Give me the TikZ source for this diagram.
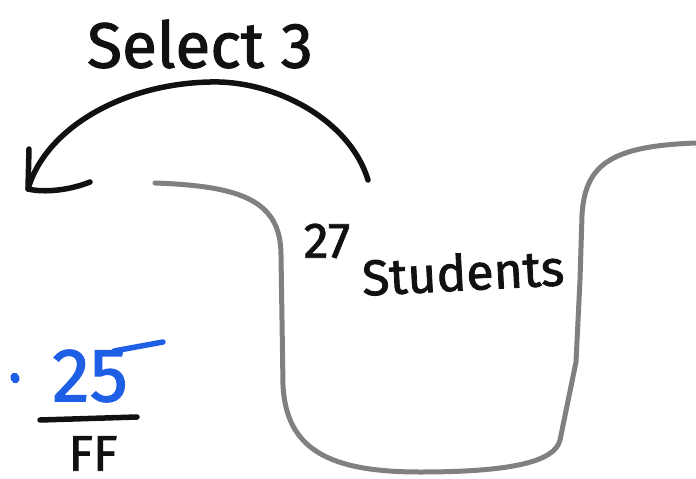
\documentclass[tikz,border=0pt]{standalone}
\usepackage{fontspec}
\usetikzlibrary{shapes.geometric}
\setmainfont{Fira Sans}
\newfontfamily\handfont[FakeBold=1.6]{Fira Sans}
\definecolor{ink}{HTML}{111111}
\definecolor{pen}{HTML}{1E5FE6}
\definecolor{wall}{HTML}{808080}
\begin{document}
\begin{tikzpicture}[x=1pt,y=-1pt,
  inkline/.style={draw=ink,line width=5.5pt,line cap=round,line join=round},
  wallline/.style={draw=wall,line width=5pt,line cap=round,line join=round},
  penline/.style={draw=pen,line width=5.5pt,line cap=round},
  lbl/.style={inner sep=0pt,text=ink,font=\handfont}]
\useasboundingbox (0,0) rectangle (696,479);
\clip (0,0) rectangle (696,479);
% text
\node[lbl] (sel) at (200,44) {\fontsize{64}{64}\selectfont Select 3};
\node[lbl] (n27) at (327,241) {\fontsize{50}{50}\selectfont 27};
\node[lbl,rotate=3] (stu) at (463,272) {\fontsize{50}{50}\selectfont Students};
\node[lbl,text=pen] (q25) at (90,376) {\fontsize{76}{76}\selectfont 25};
\node[ellipse,fill=pen,inner sep=0pt,minimum width=9pt,minimum height=11pt,rotate=20] (dot) at (15,378) {};
\node[lbl,anchor=north] (ff) at (93,436) {\fontsize{50}{50}\selectfont FF};
% coordinates
\coordinate (a0) at (368,180);
\coordinate (atop) at (210,82);
\coordinate (tip) at (28,189);
\coordinate (h1) at (29,149);
\coordinate (h2) at (90,182);
\coordinate (u0) at (40,420);
\coordinate (u1) at (137,417);
\coordinate (b0) at (114,351);
\coordinate (b1) at (163,342);
% selection arrow
\path[inkline] (a0) .. controls (350,120) and (275,80) .. (atop)
  .. controls (120,84) and (45,130) .. (tip);
\path[inkline] (h1) -- (tip) .. controls (45,193) and (70,190) .. (h2);
% fraction bar
\path[inkline] (u0) -- (u1);
% blue stroke of the 5
\path[penline] (b0) -- (b1);
% gray room outline
\path[wallline] (155,183) .. controls (240,186) and (281,200) .. (281,255)
  -- (283,385) .. controls (286,450) and (330,472) .. (420,472)
  .. controls (510,472) and (555,462) .. (560,440)
  -- (576,362) -- (580,280) -- (582,215)
  .. controls (585,165) and (610,146) .. (696,143);
\end{tikzpicture}
\end{document}
